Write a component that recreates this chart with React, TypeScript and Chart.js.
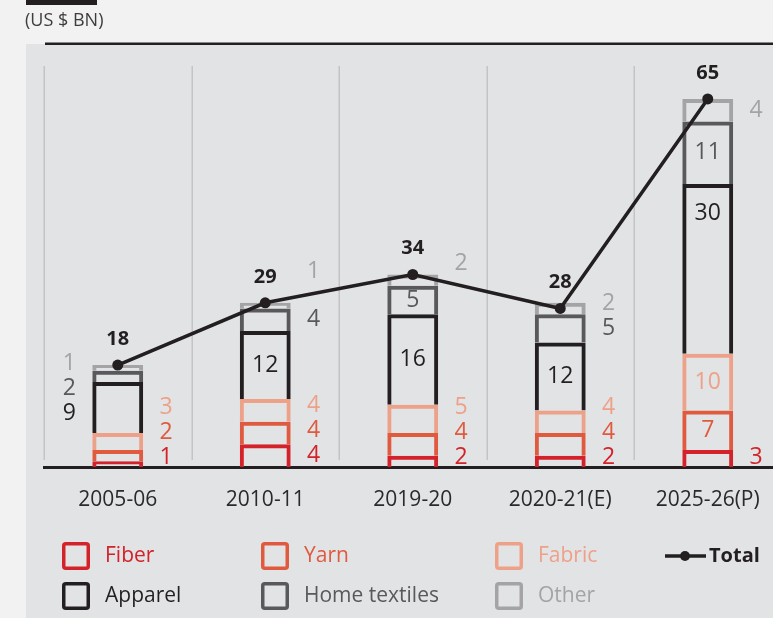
import React, { useEffect, useRef } from "react";
import { Chart, registerables } from "chart.js";

Chart.register(...registerables);

// ---------- data ----------
const categories = ["2005-06", "2010-11", "2019-20", "2020-21(E)", "2025-26(P)"];
const fiber = [1, 4, 2, 2, 3];
const yarn = [2, 4, 4, 4, 7];
const fabric = [3, 4, 5, 4, 10];
const apparel = [9, 12, 16, 12, 30];
const homeTextiles = [2, 4, 5, 5, 11];
const other = [1, 1, 2, 2, 4];
const total = [18, 29, 34, 28, 65];
const seriesNames = ["Fiber", "Yarn", "Fabric", "Apparel", "Home textiles", "Other"];
const totalName = "Total";
const unitLabel = "(US $ BN)";

// ---------- style ----------
const FONT = "'Open Sans', 'Noto Sans', sans-serif";
const COLORS = ["#d3222a", "#df5a3e", "#eea189", "#231f20", "#59595b", "#a4a4a6"];
// where each segment's value label sits: R = right of bar, L = left, I = inside
const placement = [
  ["R", "R", "R", "R", "R"],
  ["R", "R", "R", "R", "I"],
  ["R", "R", "R", "R", "I"],
  ["L", "I", "I", "I", "I"],
  ["L", "R", "I", "R", "I"],
  ["L", "R", "R", "R", "R"],
];

const W = 773;
const H = 618;
const CANVAS_W = 790;

const backgroundPlugin = {
  id: "bgPanel",
  beforeDraw(chart: any) {
    const ctx = chart.ctx;
    const w = chart.width;
    const h = chart.height;
    ctx.save();
    ctx.fillStyle = "#f2f2f2";
    ctx.fillRect(0, 0, w, h);
    ctx.fillStyle = "#e2e3e5";
    ctx.fillRect(26, 44, w - 26, h - 44);
    ctx.fillStyle = "#231f20";
    ctx.fillRect(26, 0, 71, 5);
    ctx.fillRect(45, 42.5, w - 45, 2.5);
    ctx.fillStyle = "#3d3d3d";
    ctx.font = `18px ${FONT}`;
    ctx.textBaseline = "middle";
    ctx.textAlign = "left";
    ctx.fillText(unitLabel, 25, 21);
    ctx.restore();
  },
  beforeDatasetsDraw(chart: any) {
    // category separators, drawn from the x scale, stopping short of the baseline
    const ctx = chart.ctx;
    const xs = chart.scales.x;
    const area = chart.chartArea;
    const half = (xs.getPixelForTick(1) - xs.getPixelForTick(0)) / 2;
    ctx.save();
    ctx.strokeStyle = "#c3c4c6";
    ctx.lineWidth = 1.5;
    for (let i = 0; i < categories.length; i++) {
      const gx = Math.round(xs.getPixelForTick(i) - half) + 0.25;
      ctx.beginPath();
      ctx.moveTo(gx, area.top + 1);
      ctx.lineTo(gx, area.bottom - 7);
      ctx.stroke();
    }
    ctx.restore();
  },
};

const labelsPlugin = {
  id: "segLabels",
  afterDatasetsDraw(chart: any) {
    const ctx = chart.ctx;
    const nSeries = seriesNames.length;
    const lineMeta = chart.getDatasetMeta(nSeries);
    const pts = lineMeta.data.map((p: any) => ({ x: p.x, y: p.y }));
    const lineYAt = (x: number) => {
      for (let k = 0; k < pts.length - 1; k++) {
        const a = pts[k];
        const b = pts[k + 1];
        if (x >= a.x && x <= b.x) return a.y + ((b.y - a.y) * (x - a.x)) / (b.x - a.x);
      }
      return null;
    };
    const baseY = chart.scales.y.getPixelForValue(0);
    ctx.save();
    ctx.textAlign = "center";
    ctx.textBaseline = "middle";
    ctx.font = `23px ${FONT}`;
    for (let j = 0; j < categories.length; j++) {
      const right: any[] = [];
      const left: any[] = [];
      for (let i = 0; i < nSeries; i++) {
        const el = chart.getDatasetMeta(i).data[j];
        const { x, y, base, width } = el.getProps(["x", "y", "base", "width"], true);
        const top = Math.min(y, base);
        const bot = Math.max(y, base);
        const c = (top + bot) / 2;
        const h = bot - top;
        const value = chart.data.datasets[i].data[j];
        const p = placement[i][j];
        if (p === "I") {
          ctx.fillStyle = COLORS[i];
          ctx.fillText(String(value), x, h > 120 ? top + 30 : c);
        } else if (p === "R") {
          right.push({ i, value, x: x + width / 2 + 23, c });
        } else {
          left.push({ i, value, x: x - width / 2 - 23, c });
        }
      }
      right.sort((a, b) => b.c - a.c);
      let prev = Infinity;
      for (const r of right) {
        let y = Math.min(r.c, baseY - 10, prev - 25);
        const ly = lineYAt(r.x);
        if (ly !== null && Math.abs(y - ly) < 20) y = ly - 22;
        prev = y;
        ctx.fillStyle = COLORS[r.i];
        ctx.fillText(String(r.value), r.x, y);
      }
      if (left.length) {
        left.sort((a, b) => a.c - b.c);
        const mean = left.reduce((s, l) => s + l.c, 0) / left.length;
        const start = mean + 4 - ((left.length - 1) * 25) / 2;
        left.forEach((l, k) => {
          ctx.fillStyle = COLORS[l.i];
          ctx.fillText(String(l.value), l.x, start + k * 25);
        });
      }
    }
    ctx.restore();
  },
  afterDraw(chart: any) {
    const ctx = chart.ctx;
    const lineMeta = chart.getDatasetMeta(seriesNames.length);
    ctx.save();
    ctx.textAlign = "center";
    ctx.textBaseline = "middle";
    ctx.font = `bold 20px ${FONT}`;
    ctx.fillStyle = "#231f20";
    lineMeta.data.forEach((p: any, j: number) => {
      ctx.fillText(String(total[j]), p.x, p.y - 26);
    });
    ctx.restore();
  },
};

const legendPlugin = {
  id: "customLegend",
  afterDraw(chart: any) {
    const ctx = chart.ctx;
    const cols = [62, 261, 495];
    const rows = [556, 596];
    ctx.save();
    ctx.textBaseline = "middle";
    ctx.textAlign = "left";
    seriesNames.forEach((name, i) => {
      const x = cols[i % 3];
      const y = rows[Math.floor(i / 3)];
      ctx.strokeStyle = COLORS[i];
      ctx.lineWidth = 3.5;
      ctx.beginPath();
      (ctx as any).roundRect(x + 1.75, y - 14 + 1.75, 28 - 3.5, 28 - 3.5, 2);
      ctx.stroke();
      ctx.fillStyle = COLORS[i];
      ctx.font = `21px ${FONT}`;
      ctx.fillText(name, x + 43, y);
    });
    // Total
    const ty = rows[0];
    ctx.strokeStyle = "#231f20";
    ctx.lineWidth = 3.5;
    ctx.beginPath();
    ctx.moveTo(665, ty);
    ctx.lineTo(706, ty);
    ctx.stroke();
    ctx.fillStyle = "#231f20";
    ctx.beginPath();
    ctx.arc(685, ty, 5, 0, Math.PI * 2);
    ctx.fill();
    ctx.font = `bold 20px ${FONT}`;
    ctx.fillText(totalName, 709, ty);
    ctx.restore();
  },
};

export default function App() {
  const ref = useRef<HTMLCanvasElement | null>(null);

  useEffect(() => {
    if (!ref.current) return;
    const series = [fiber, yarn, fabric, apparel, homeTextiles, other];
    const chart = new Chart(ref.current, {
      type: "bar",
      data: {
        labels: categories,
        datasets: [
          ...series.map((d, i) => ({
            type: "bar" as const,
            label: seriesNames[i],
            data: d,
            backgroundColor: "rgba(0,0,0,0)",
            borderColor: COLORS[i],
            borderWidth: 4,
            borderSkipped: "start" as const,
            stack: "bars",
            barPercentage: 0.345,
            categoryPercentage: 1,
            order: 2,
          })),
          {
            type: "line" as const,
            label: totalName,
            data: total,
            borderColor: "#231f20",
            backgroundColor: "#231f20",
            borderWidth: 3.5,
            pointRadius: 5.5,
            pointBackgroundColor: "#231f20",
            pointBorderWidth: 0,
            tension: 0,
            stack: "total",
            order: 0,
          } as any,
        ],
      },
      options: {
        responsive: false,
        animation: false,
        devicePixelRatio: 1,
        layout: { padding: { left: 44, right: 8.5, top: 65, bottom: 85.8 } },
        plugins: { legend: { display: false }, tooltip: { enabled: false } },
        scales: {
          x: {
            stacked: true,
            offset: true,
            grid: { display: false, drawTicks: false },
            border: { display: true, color: "#231f20", width: 3 },
            ticks: {
              color: "#2a2a2a",
              font: { family: FONT, size: 21 },
              padding: 20,
              maxRotation: 0,
              autoSkip: false,
            },
          },
          y: { stacked: true, display: false, min: 0, max: 71 },
        },
      },
      plugins: [backgroundPlugin, labelsPlugin, legendPlugin],
    } as any);
    return () => chart.destroy();
  }, []);

  return (
    <div
      style={{
        position: "fixed",
        left: 0,
        top: 0,
        width: W,
        height: H,
        overflow: "hidden",
        background: "#f2f2f2",
      }}
    >
      <canvas ref={ref} width={CANVAS_W} height={H} style={{ display: "block", width: CANVAS_W, height: H }} />
    </div>
  );
}
